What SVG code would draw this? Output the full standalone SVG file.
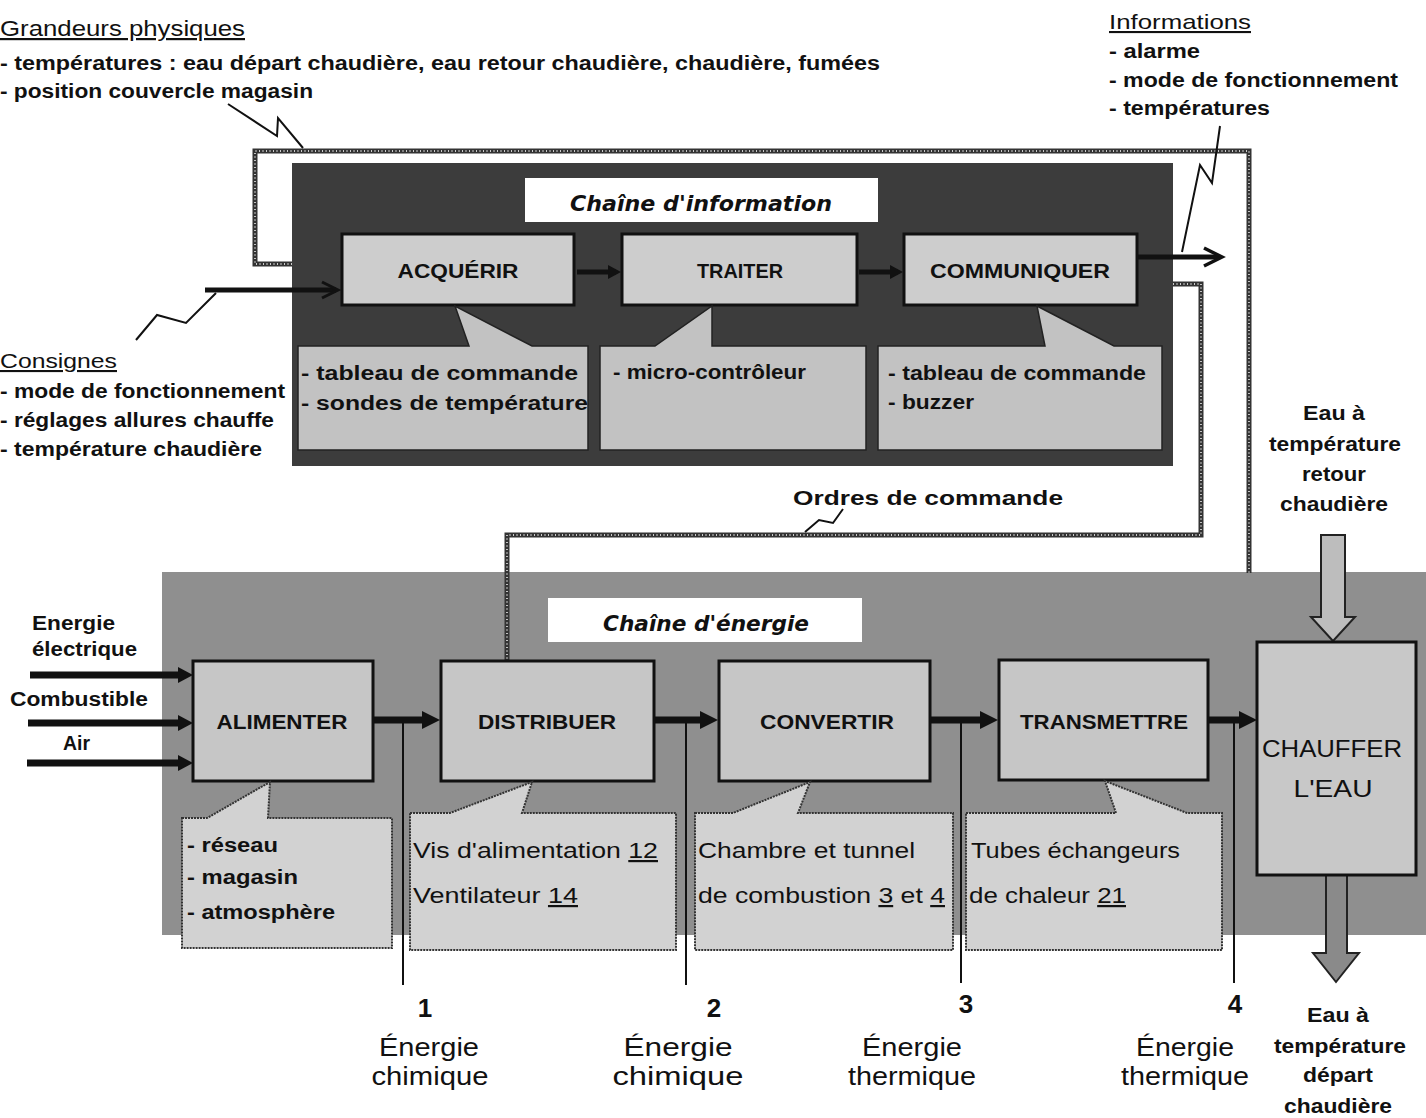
<svg xmlns="http://www.w3.org/2000/svg" width="1426" height="1118" viewBox="0 0 1426 1118">
<style>
text{font-family:"Liberation Sans",Arial,sans-serif;fill:#111}
.b{font-weight:bold}
.u{text-decoration:underline}
.ttl{font-family:"DejaVu Sans","Liberation Sans",sans-serif;font-style:italic;font-weight:bold;font-size:21px}
.box{stroke:#111;stroke-width:3}
.ibox{fill:#cdcdcd}
.ebox{fill:#c6c6c6}
.ical{fill:#c2c2c2;stroke:#222;stroke-width:1.5}
.ecal{fill:#d2d2d2;stroke:#333;stroke-width:2;stroke-dasharray:2 1}
.loop{fill:none;stroke:#333;stroke-width:5}
.loopd{fill:none;stroke:#fff;stroke-width:1.4;stroke-dasharray:1 2.5}
.thin{stroke:#111;stroke-width:2;fill:none}
.arr{stroke:#111;stroke-width:7;fill:none}
.head{fill:#111}
.lbl{font-weight:bold;font-size:21px}
</style>

<!-- backgrounds -->
<g id="info-chain-bg">
  <rect x="292" y="163" width="881" height="303" fill="#3c3c3c"/>
  <rect x="525" y="178" width="353" height="44" fill="#fff"/>
  <text class="ttl" x="701" y="211" text-anchor="middle" textLength="262" lengthAdjust="spacingAndGlyphs">Chaîne d'information</text>
</g>
<g id="energy-chain-bg">
  <rect x="162" y="572" width="1264" height="363" fill="#8f8f8f"/>
  <rect x="548" y="598" width="314" height="44" fill="#fff"/>
  <text class="ttl" x="706" y="631" text-anchor="middle" textLength="206" lengthAdjust="spacingAndGlyphs">Chaîne d'énergie</text>
</g>

<!-- connectors -->
<g id="connectors">
  <path class="loop" d="M292,264 H255 V151 H1249 V573"/>
  <path class="loopd" d="M292,264 H255 V151 H1249 V573"/>
  <path class="loop" d="M1173,284 H1201 V535 H507 V660"/>
  <path class="loopd" d="M1173,284 H1201 V535 H507 V660"/>
  <!-- zigzags -->
  <polyline class="thin" points="228,104 277,136 278,118 303,148"/>
  <polyline class="thin" points="1220,126 1212,183 1200,165 1182,252"/>
  <polyline class="thin" points="136,340 157,315 186,323 216,293"/>
  <polyline class="thin" points="805,532 819,520 833,523 843,509"/>
  <!-- info arrows -->
  <line x1="205" y1="290" x2="336" y2="290" stroke="#111" stroke-width="5"/>
  <polyline points="322,282 338,290 322,298" stroke="#111" stroke-width="3" fill="none"/>
  <line x1="577" y1="272" x2="616" y2="272" stroke="#111" stroke-width="5"/>
  <polygon class="head" points="608,265 621,272 608,279"/>
  <line x1="859" y1="272" x2="898" y2="272" stroke="#111" stroke-width="5"/>
  <polygon class="head" points="890,265 903,272 890,279"/>
  <line x1="1138" y1="257" x2="1220" y2="257" stroke="#111" stroke-width="5"/>
  <polyline points="1204,248 1222,257 1204,266" stroke="#111" stroke-width="3.5" fill="none"/>
  <!-- energy input arrows -->
  <line class="arr" x1="30" y1="675" x2="182" y2="675"/>
  <polygon class="head" points="178,667 193,675 178,683"/>
  <line class="arr" x1="28" y1="723" x2="182" y2="723"/>
  <polygon class="head" points="178,715 193,723 178,731"/>
  <line class="arr" x1="27" y1="763" x2="182" y2="763"/>
  <polygon class="head" points="178,755 193,763 178,771"/>
  <!-- energy chain arrows -->
  <line class="arr" x1="373" y1="720" x2="426" y2="720" stroke-width="8"/>
  <polygon class="head" points="422,711 440,720 422,729"/>
  <line class="arr" x1="655" y1="720" x2="704" y2="720" stroke-width="8"/>
  <polygon class="head" points="700,711 718,720 700,729"/>
  <line class="arr" x1="931" y1="720" x2="984" y2="720" stroke-width="8"/>
  <polygon class="head" points="980,711 998,720 980,729"/>
  <line class="arr" x1="1209" y1="720" x2="1243" y2="720" stroke-width="8"/>
  <polygon class="head" points="1239,711 1257,720 1239,729"/>
  <!-- water arrows -->
  <path d="M1321,535 H1345 V617 H1355 L1333,641 L1311,617 H1321 Z" fill="#bdbdbd" stroke="#222" stroke-width="2"/>
  <path d="M1326,875 H1347 V953 H1359 L1336,982 L1313,953 H1326 Z" fill="#8a8a8a" stroke="#222" stroke-width="2"/>
</g>

<!-- info chain nodes -->
<g id="acquerir">
  <rect class="box ibox" x="342" y="234" width="232" height="71"/>
  <text class="lbl" x="458" y="278" text-anchor="middle" textLength="121" lengthAdjust="spacingAndGlyphs">ACQUÉRIR</text>
</g>
<g id="traiter">
  <rect class="box ibox" x="622" y="234" width="235" height="71"/>
  <text class="lbl" x="740" y="278" text-anchor="middle" textLength="86" lengthAdjust="spacingAndGlyphs">TRAITER</text>
</g>
<g id="communiquer">
  <rect class="box ibox" x="904" y="234" width="233" height="71"/>
  <text class="lbl" x="1020" y="278" text-anchor="middle" textLength="180" lengthAdjust="spacingAndGlyphs">COMMUNIQUER</text>
</g>
<g id="callout-acquerir">
  <path class="ical" d="M298,346 H469 L455,306 L532,346 H588 V450 H298 Z"/>
  <text class="b" x="301" y="380" font-size="20" textLength="277" lengthAdjust="spacingAndGlyphs">- tableau de commande</text>
  <text class="b" x="301" y="410" font-size="20" textLength="287" lengthAdjust="spacingAndGlyphs">- sondes de température</text>
</g>
<g id="callout-traiter">
  <path class="ical" d="M600,346 H655 L712,306 V346 H866 V450 H600 Z"/>
  <text class="b" x="613" y="379" font-size="20" textLength="193" lengthAdjust="spacingAndGlyphs">- micro-contrôleur</text>
</g>
<g id="callout-communiquer">
  <path class="ical" d="M878,346 H1045 L1037,306 L1114,346 H1162 V450 H878 Z"/>
  <text class="b" x="888" y="380" font-size="20" textLength="258" lengthAdjust="spacingAndGlyphs">- tableau de commande</text>
  <text class="b" x="888" y="409" font-size="20" textLength="86" lengthAdjust="spacingAndGlyphs">- buzzer</text>
</g>

<!-- energy chain nodes -->
<g id="alimenter">
  <rect class="box ebox" x="193" y="661" width="180" height="120"/>
  <text class="lbl" x="282" y="729" text-anchor="middle" textLength="131" lengthAdjust="spacingAndGlyphs">ALIMENTER</text>
</g>
<g id="distribuer">
  <rect class="box ebox" x="441" y="661" width="213" height="120"/>
  <text class="lbl" x="547" y="729" text-anchor="middle" textLength="138" lengthAdjust="spacingAndGlyphs">DISTRIBUER</text>
</g>
<g id="convertir">
  <rect class="box ebox" x="719" y="661" width="211" height="120"/>
  <text class="lbl" x="827" y="729" text-anchor="middle" textLength="134" lengthAdjust="spacingAndGlyphs">CONVERTIR</text>
</g>
<g id="transmettre">
  <rect class="box ebox" x="999" y="660" width="209" height="120"/>
  <text class="lbl" x="1104" y="729" text-anchor="middle" textLength="168" lengthAdjust="spacingAndGlyphs">TRANSMETTRE</text>
</g>
<g id="chauffer">
  <rect class="box" x="1257" y="642" width="159" height="233" fill="#c8c8c8"/>
  <text x="1332" y="757" font-size="24" text-anchor="middle" textLength="140" lengthAdjust="spacingAndGlyphs">CHAUFFER</text>
  <text x="1333" y="797" font-size="24" text-anchor="middle" textLength="79" lengthAdjust="spacingAndGlyphs">L'EAU</text>
</g>
<g id="callout-alimenter">
  <path class="ecal" d="M182,818 H207 L270,782 L268,818 H392 V948 H182 Z"/>
  <text class="b" x="187" y="852" font-size="20" textLength="91" lengthAdjust="spacingAndGlyphs">- réseau</text>
  <text class="b" x="187" y="884" font-size="20" textLength="111" lengthAdjust="spacingAndGlyphs">- magasin</text>
  <text class="b" x="187" y="919" font-size="20" textLength="148" lengthAdjust="spacingAndGlyphs">- atmosphère</text>
</g>
<g id="callout-distribuer">
  <path class="ecal" d="M410,813 H450 L532,782 L522,813 H676 V950 H410 Z"/>
  <text x="413" y="858" font-size="22" textLength="245" lengthAdjust="spacingAndGlyphs">Vis d'alimentation <tspan class="u">12</tspan></text>
  <text x="413" y="903" font-size="22" textLength="165" lengthAdjust="spacingAndGlyphs">Ventilateur <tspan class="u">14</tspan></text>
</g>
<g id="callout-convertir">
  <path class="ecal" d="M695,813 H733 L810,782 L798,813 H953 V950 H695 Z"/>
  <text x="698" y="858" font-size="22" textLength="217" lengthAdjust="spacingAndGlyphs">Chambre et tunnel</text>
  <text x="698" y="903" font-size="22" textLength="247" lengthAdjust="spacingAndGlyphs">de combustion <tspan class="u">3</tspan> et <tspan class="u">4</tspan></text>
</g>
<g id="callout-transmettre">
  <path class="ecal" d="M966,813 H1116 L1105,781 L1187,813 H1222 V950 H966 Z"/>
  <text x="971" y="858" font-size="22" textLength="209" lengthAdjust="spacingAndGlyphs">Tubes échangeurs</text>
  <text x="969" y="903" font-size="22" textLength="157" lengthAdjust="spacingAndGlyphs">de chaleur <tspan class="u">21</tspan></text>
</g>

<!-- energy measurement lines -->
<g id="energy-lines">
  <line class="thin" x1="403" y1="720" x2="403" y2="985"/>
  <line class="thin" x1="686" y1="720" x2="686" y2="985"/>
  <line class="thin" x1="961" y1="720" x2="961" y2="983"/>
  <line class="thin" x1="1234" y1="720" x2="1234" y2="983"/>
</g>

<!-- free texts -->
<g id="grandeurs">
  <text class="u" x="0" y="36" font-size="22" textLength="245" lengthAdjust="spacingAndGlyphs">Grandeurs physiques</text>
  <text class="b" x="0" y="70" font-size="20" textLength="880" lengthAdjust="spacingAndGlyphs">- températures :  eau départ chaudière, eau retour chaudière, chaudière, fumées</text>
  <text class="b" x="0" y="98" font-size="20" textLength="313" lengthAdjust="spacingAndGlyphs">- position couvercle magasin</text>
</g>
<g id="informations">
  <text class="u" x="1109" y="29" font-size="21" textLength="142" lengthAdjust="spacingAndGlyphs">Informations</text>
  <text class="b" x="1109" y="58" font-size="20" textLength="91" lengthAdjust="spacingAndGlyphs">- alarme</text>
  <text class="b" x="1109" y="87" font-size="20" textLength="289" lengthAdjust="spacingAndGlyphs">- mode de fonctionnement</text>
  <text class="b" x="1109" y="115" font-size="20" textLength="161" lengthAdjust="spacingAndGlyphs">- températures</text>
</g>
<g id="consignes">
  <text class="u" x="0" y="368" font-size="21" textLength="117" lengthAdjust="spacingAndGlyphs">Consignes</text>
  <text class="b" x="0" y="398" font-size="20" textLength="285" lengthAdjust="spacingAndGlyphs">- mode de fonctionnement</text>
  <text class="b" x="0" y="427" font-size="20" textLength="274" lengthAdjust="spacingAndGlyphs">- réglages allures chauffe</text>
  <text class="b" x="0" y="456" font-size="20" textLength="262" lengthAdjust="spacingAndGlyphs">- température chaudière</text>
</g>
<g id="ordres">
  <text class="b" x="928" y="505" font-size="21" text-anchor="middle" textLength="270" lengthAdjust="spacingAndGlyphs">Ordres de commande</text>
</g>
<g id="inputs">
  <text class="b" x="32" y="630" font-size="20" textLength="83" lengthAdjust="spacingAndGlyphs">Energie</text>
  <text class="b" x="32" y="656" font-size="20" textLength="105" lengthAdjust="spacingAndGlyphs">électrique</text>
  <text class="b" x="10" y="706" font-size="20" textLength="138" lengthAdjust="spacingAndGlyphs">Combustible</text>
  <text class="b" x="63" y="750" font-size="20" textLength="27" lengthAdjust="spacingAndGlyphs">Air</text>
</g>
<g id="eau-retour" font-size="20">
  <text class="b" x="1334" y="420" text-anchor="middle" textLength="62" lengthAdjust="spacingAndGlyphs">Eau à</text>
  <text class="b" x="1335" y="451" text-anchor="middle" textLength="132" lengthAdjust="spacingAndGlyphs">température</text>
  <text class="b" x="1334" y="481" text-anchor="middle" textLength="64" lengthAdjust="spacingAndGlyphs">retour</text>
  <text class="b" x="1334" y="511" text-anchor="middle" textLength="108" lengthAdjust="spacingAndGlyphs">chaudière</text>
</g>
<g id="eau-depart" font-size="20">
  <text class="b" x="1338" y="1022" text-anchor="middle" textLength="62" lengthAdjust="spacingAndGlyphs">Eau à</text>
  <text class="b" x="1340" y="1053" text-anchor="middle" textLength="132" lengthAdjust="spacingAndGlyphs">température</text>
  <text class="b" x="1338" y="1082" text-anchor="middle" textLength="70" lengthAdjust="spacingAndGlyphs">départ</text>
  <text class="b" x="1338" y="1113" text-anchor="middle" textLength="108" lengthAdjust="spacingAndGlyphs">chaudière</text>
</g>
<g id="energy-labels" font-size="25">
  <text class="b" x="425" y="1017" text-anchor="middle" font-size="26">1</text>
  <text x="429" y="1056" text-anchor="middle" textLength="100" lengthAdjust="spacingAndGlyphs">Énergie</text>
  <text x="430" y="1085" text-anchor="middle" textLength="117" lengthAdjust="spacingAndGlyphs">chimique</text>
  <text class="b" x="714" y="1017" text-anchor="middle" font-size="26">2</text>
  <text x="678" y="1056" text-anchor="middle" textLength="109" lengthAdjust="spacingAndGlyphs">Énergie</text>
  <text x="678" y="1085" text-anchor="middle" textLength="131" lengthAdjust="spacingAndGlyphs">chimique</text>
  <text class="b" x="966" y="1013" text-anchor="middle" font-size="26">3</text>
  <text x="912" y="1056" text-anchor="middle" textLength="100" lengthAdjust="spacingAndGlyphs">Énergie</text>
  <text x="912" y="1085" text-anchor="middle" textLength="128" lengthAdjust="spacingAndGlyphs">thermique</text>
  <text class="b" x="1235" y="1013" text-anchor="middle" font-size="26">4</text>
  <text x="1185" y="1056" text-anchor="middle" textLength="98" lengthAdjust="spacingAndGlyphs">Énergie</text>
  <text x="1185" y="1085" text-anchor="middle" textLength="128" lengthAdjust="spacingAndGlyphs">thermique</text>
</g>
</svg>
